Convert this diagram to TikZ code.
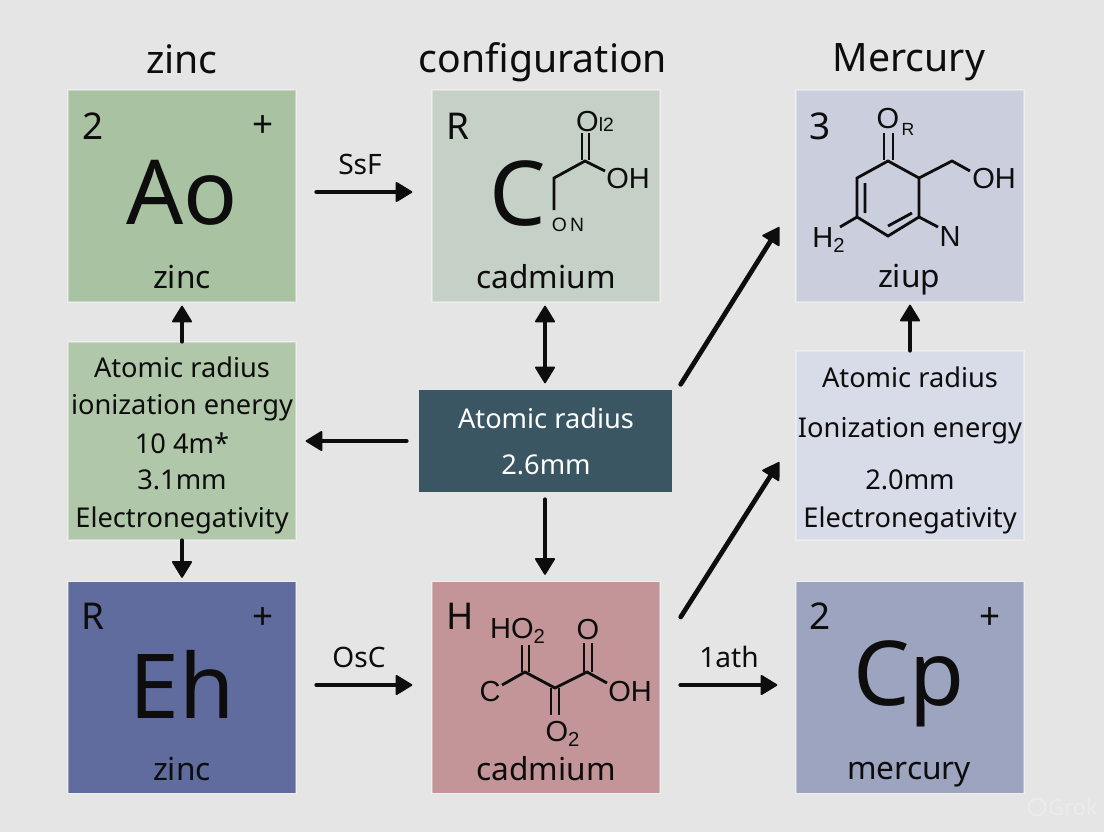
\documentclass[tikz,border=0pt]{standalone}
\usepackage{fontspec}
\setmainfont{Noto Sans}
\newfontfamily\molfont{Liberation Sans}
\usetikzlibrary{arrows.meta}

\definecolor{pagebg}{HTML}{E4E5E4}
\definecolor{aobox}{HTML}{A9C3A2}
\definecolor{cdbox}{HTML}{C5D1C7}
\definecolor{zibox}{HTML}{CACEDD}
\definecolor{leftbox}{HTML}{B0C8A9}
\definecolor{midbox}{HTML}{3A5662}
\definecolor{rightbox}{HTML}{D8DBE8}
\definecolor{ehbox}{HTML}{5F6C9D}
\definecolor{hbox}{HTML}{C49598}
\definecolor{cpbox}{HTML}{9CA4C0}
\definecolor{inkline}{HTML}{0D0D0D}

\tikzset{
    card/.style={minimum width=4.56cm, minimum height=4.24cm, inner sep=0pt, draw=white, draw opacity=0.35, line width=0.8pt},
    title/.style={font=\fontsize{22.3}{26}\selectfont, text=inkline},
    corner/.style={font=\fontsize{21}{25}\selectfont, text=inkline},
    bigsym/.style={font=\fontsize{51}{60}\selectfont, text=inkline},
    caption/.style={font=\fontsize{18}{22}\selectfont, text=inkline},
    info/.style={font=\fontsize{15.5}{19}\selectfont, text=inkline},
    tag/.style={font=\fontsize{16}{20}\selectfont, text=inkline},
    atom/.style={font=\molfont\fontsize{16.5}{18}\selectfont, text=inkline, inner sep=0pt},
    bond/.style={line width=1.6pt, draw=inkline},
    flow/.style={-{Triangle[length=10pt,width=12pt,round,line width=1pt]}, line cap=round, line width=2.7pt, draw=inkline},
    flowboth/.style={{Triangle[length=10pt,width=12pt,round,line width=1pt]}-{Triangle[length=10pt,width=12pt,round,line width=1pt]}, line width=2.5pt, draw=inkline}
}

\begin{document}
\begin{tikzpicture}[x=0.02cm, y=-0.02cm]
    \fill[pagebg] (0,0) rectangle (1104,832);
    \useasboundingbox (0,0) rectangle (1104,832);

    % Titles
    \node[title] (titlezinc) at (182,59) {zinc};
    \node[title] (titleconf) at (543,62) {configuration};
    \node[title] (titlemerc) at (909,62) {Mercury};

    % Cards
    \node[card, fill=aobox] (boxao) at (182,196) {};
    \node[card, fill=cdbox] (boxcd) at (546,196) {};
    \node[card, fill=zibox] (boxzi) at (910,196) {};
    \node[card, fill=ehbox] (boxeh) at (182,687.5) {};
    \node[card, fill=hbox] (boxh) at (546,687.5) {};
    \node[card, fill=cpbox] (boxcp) at (910,687.5) {};

    % Property boxes
    \node[card, minimum height=3.96cm, fill=leftbox] (boxleft) at (182,441) {};
    \node[card, minimum width=5.06cm, minimum height=2.04cm, fill=midbox, draw=none] (boxmid) at (545.5,441) {};
    \node[card, minimum height=3.78cm, fill=rightbox] (boxright) at (910,445.5) {};

    % Ao card
    \node[corner] (aonum) at (93,126) {2};
    \node[corner] (aoplus) at (263,127) {+};
    \node[bigsym] (aosym) at (182,193) {Ao};
    \node[caption] (aoname) at (182,277) {zinc};

    % Cadmium card, top
    \node[corner] (cdnum) at (458,126) {R};
    \node[bigsym] (cdsym) at (518,194) {C};
    \node[caption] (cdname) at (546,277) {cadmium};
    \node[atom] (cdoxy) at (595,122) {O{\fontsize{11}{12}\selectfont l2}};
    \node[atom] (cdoh) at (628,179) {OH};
    \node[atom, font=\molfont\fontsize{11}{12}\selectfont] (cdcn) at (568,225) {O\,N};
    \draw[bond] (582,133) -- (582,160) (589,133) -- (589,160);
    \draw[bond] (554,210) -- (554,178) -- (585,161) -- (605,171);

    % Ziup card
    \node[corner] (zinum) at (820,126) {3};
    \node[caption] (ziname) at (909,280) {ziup};
    \node[atom] (zioxy) at (888,119) {O};
    \node[atom, font=\molfont\fontsize{10}{12}\selectfont] (zir) at (908,129) {R};
    \node[atom] (zioh) at (994,179) {OH};
    \node[atom] (zin) at (950,237) {N};
    \node[atom] (zih) at (829,240) {H\textsubscript{2}};
    \draw[bond] (884,133) -- (884,160) (893,133) -- (893,160);
    \draw[bond] (888,161) -- (919,178) -- (919,217) -- (888,236) -- (857,217) -- (857,178) -- cycle;
    \draw[bond] (865,183) -- (865,213) (888,226) -- (912,213);
    \draw[bond] (919,178) -- (952,161) -- (970,171);
    \draw[bond] (919,217) -- (938,227) (857,217) -- (840,227);

    % Eh card
    \node[corner] (ehnum) at (93,616) {R};
    \node[corner] (ehplus) at (263,619) {+};
    \node[bigsym] (ehsym) at (182,684) {Eh};
    \node[caption] (ehname) at (182,769) {zinc};

    % Cadmium card, bottom
    \node[corner] (hnum) at (460,616) {H};
    \node[caption] (hname) at (546,769) {cadmium};
    \node[atom] (hoxya) at (518,631) {HO\textsubscript{2}};
    \node[atom] (hoxyb) at (588,630) {O};
    \node[atom] (hcarb) at (490,692) {C};
    \node[atom] (hoh) at (630,692) {OH};
    \node[atom] (hoxyc) at (563,734) {O\textsubscript{2}};
    \draw[bond] (522,645) -- (522,672) (529,645) -- (529,672);
    \draw[bond] (584,643) -- (584,672) (592,643) -- (592,672);
    \draw[bond] (551,688) -- (551,715) (559,688) -- (559,715);
    \draw[bond] (502,685) -- (525,672) -- (555,688) -- (587,672) -- (607,683);

    % Cp card
    \node[corner] (cpnum) at (820,616) {2};
    \node[corner] (cpplus) at (990,619) {+};
    \node[bigsym] (cpsym) at (909,684) {Cp};
    \node[caption] (cpname) at (909,775) {mercury};

    % Property texts
    \node[info] (leftone) at (182,367) {Atomic radius};
    \node[info] (lefttwo) at (182,408) {ionization energy};
    \node[info] (leftthree) at (182,443) {10 4m*};
    \node[info] (leftfour) at (182,480) {3.1mm};
    \node[info] (leftfive) at (182,520) {Electronegativity};
    \node[info, text=white] (midone) at (546,418) {Atomic radius};
    \node[info, text=white] (midtwo) at (546,465) {2.6mm};
    \node[info] (rightone) at (910,377) {Atomic radius};
    \node[info] (righttwo) at (910,431) {Ionization energy};
    \node[info] (rightthree) at (910,480) {2.0mm};
    \node[info] (rightfour) at (910,520) {Electronegativity};

    % Arrows
    \node[tag] (tagssf) at (360,164) {SsF};
    \node[tag] (tagosc) at (359,657) {OsC};
    \node[tag] (tagath) at (729,657) {1ath};
    \draw[flow] ([shift={(20,-4)}]boxao.east) -- ([shift={(-19,-4)}]boxcd.west);
    \draw[flow] ([shift={(20,-2.5)}]boxeh.east) -- ([shift={(-19,-2.5)}]boxh.west);
    \draw[flow] ([shift={(20,-2.5)}]boxh.east) -- ([shift={(-18,-2.5)}]boxcp.west);
    \draw[flow] (boxleft.north) -- ([shift={(0,3)}]boxao.south);
    \draw[flow] (boxleft.south) -- ([shift={(0,-3)}]boxeh.north);
    \draw[flowboth] ([shift={(-1,3)}]boxcd.south) -- ([shift={(-0.5,-6)}]boxmid.north);
    \draw[flow] ([shift={(-12,0)}]boxmid.west) -- ([shift={(9,0)}]boxleft.east);
    \draw[flow] ([shift={(-0.5,7)}]boxmid.south) -- ([shift={(-1,-6)}]boxh.north);
    \draw[flow] (boxright.north) -- ([shift={(0,2)}]boxzi.south);
    \draw[flow] ([shift={(8,-5)}]boxmid.north east) -- ([shift={(-16,31)}]boxzi.west);
    \draw[flow] ([shift={(20,-70.5)}]boxh.east) -- ([shift={(-16,16.5)}]boxright.west);

    % Watermark
    \draw[line width=1.2pt, draw=white, draw opacity=0.25] (1037,807) circle (8.5);
    \node[font=\fontsize{12.5}{14}\selectfont, text=white, text opacity=0.25] (markgrok) at (1073,807) {Grok};
\end{tikzpicture}
\end{document}
